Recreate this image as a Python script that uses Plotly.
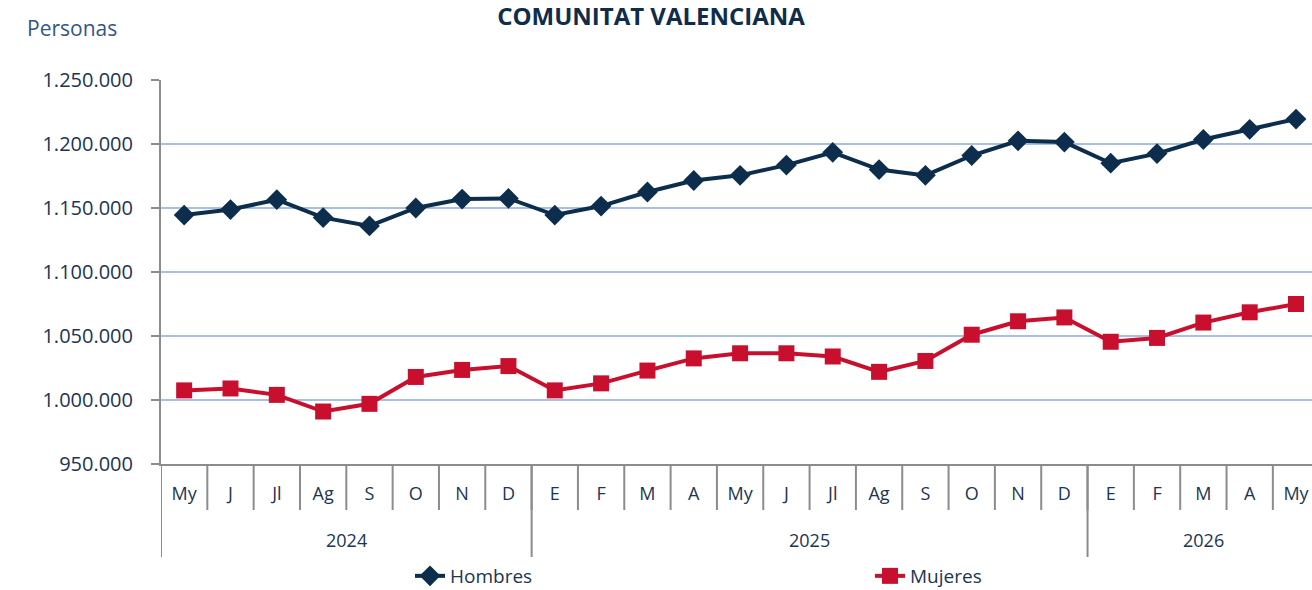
import plotly.graph_objects as go

months = ["My", "J", "Jl", "Ag", "S", "O", "N", "D",
          "E", "F", "M", "A", "My", "J", "Jl", "Ag", "S", "O", "N", "D",
          "E", "F", "M", "A", "My"]
years = ["2024", "2025", "2026"]
year_counts = [8, 12, 5]

hombres = [1144500, 1148800, 1156500, 1142500, 1136000, 1150000, 1157000, 1157500,
           1144500, 1151500, 1162500, 1171500, 1175500, 1183500, 1193500, 1180000,
           1175500, 1191000, 1202500, 1201500, 1185000, 1192500, 1203500, 1211500, 1219500]
mujeres = [1007500, 1009000, 1004000, 991000, 997000, 1018000, 1023500, 1026500,
           1007500, 1013000, 1023000, 1032500, 1036500, 1036500, 1034000, 1022000,
           1030500, 1051000, 1061500, 1064500, 1045500, 1048500, 1060500, 1068500, 1075000]
y_ticks = [950000, 1000000, 1050000, 1100000, 1150000, 1200000, 1250000]
y_tick_text = ["950.000", "1.000.000", "1.050.000", "1.100.000", "1.150.000",
               "1.200.000", "1.250.000"]

NAVY = "#0c2d4b"
RED = "#c8102e"
TXT = "#1b3552"
GRID = "#a8c0df"
AXIS = "#8c8c8c"
FONT = "'Open Sans', Lato, sans-serif"

W, H = 1312, 590
left, top, bottom = 161, 80, 464
ph = bottom - top
pw = W - left

x = list(range(len(months)))

fig = go.Figure()
fig.add_trace(go.Scatter(x=x, y=hombres, name="Hombres", mode="lines+markers",
                         line=dict(color=NAVY, width=4),
                         marker=dict(symbol="diamond", size=16, color=NAVY)))
fig.add_trace(go.Scatter(x=x, y=mujeres, name="Mujeres", mode="lines+markers",
                         line=dict(color=RED, width=4),
                         marker=dict(symbol="square", size=16, color=RED)))

shapes = []
for i in range(len(months) + 1):
    shapes.append(dict(type="line", xref="x", yref="paper", x0=i - 0.5, x1=i - 0.5,
                       y0=0, y1=-(510 - bottom) / ph, line=dict(color=AXIS, width=2)))
edges = [0]
for c in year_counts:
    edges.append(edges[-1] + c)
for e in edges:
    shapes.append(dict(type="line", xref="x", yref="paper", x0=e - 0.5, x1=e - 0.5,
                       y0=0, y1=-(557 - bottom) / ph, line=dict(color=AXIS, width=2)))

annotations = []
for k, yr in enumerate(years):
    center = (edges[k] + edges[k + 1]) / 2 - 0.5
    annotations.append(dict(x=center, y=-(540 - bottom) / ph, xref="x", yref="paper",
                            text=yr, showarrow=False, font=dict(family=FONT, size=18, color=TXT),
                            xanchor="center", yanchor="middle"))
annotations.append(dict(x=(25 - left) / pw, y=1 + (top - 28) / ph, xref="paper", yref="paper",
                        text="Personas", showarrow=False,
                        font=dict(family=FONT, size=21, color="#34558a"),
                        xanchor="left", yanchor="middle"))

fig.update_layout(
    width=W, height=H,
    margin=dict(l=left, r=0, t=top, b=H - bottom, autoexpand=False),
    paper_bgcolor="white", plot_bgcolor="white",
    title=dict(text="<b>COMUNITAT VALENCIANA</b>", x=651 / W, xanchor="center",
               y=1 - 17 / H, yanchor="middle", yref="container",
               font=dict(family=FONT, size=24, color="#0f2d4a")),
    font=dict(family=FONT, color=TXT),
    showlegend=True,
    legend=dict(orientation="h", x=(410 - left) / pw, xanchor="left",
                y=-(576 - bottom) / ph, yanchor="middle",
                font=dict(family=FONT, size=19, color=TXT),
                entrywidth=415, entrywidthmode="pixels", bgcolor="rgba(0,0,0,0)"),
    shapes=shapes,
    annotations=annotations,
    xaxis=dict(range=[-0.5, 24 + 16 / 46.375], tickmode="array", tickvals=x, ticktext=months,
               showgrid=False, showline=True, linecolor=AXIS, linewidth=2, ticks="",
               tickfont=dict(family=FONT, size=18, color=TXT), ticklabelstandoff=12,
               zeroline=False, fixedrange=True, automargin=False),
    yaxis=dict(range=[950000, 1250000], tickmode="array",
               tickvals=y_ticks, ticktext=y_tick_text,
               showgrid=True, gridcolor=GRID, gridwidth=2,
               showline=True, linecolor=AXIS, linewidth=2,
               ticks="outside", ticklen=8, tickcolor=AXIS, tickwidth=2,
               tickfont=dict(family=FONT, size=20, color=TXT), ticklabelstandoff=14,
               zeroline=False, fixedrange=True, automargin=False),
)
fig.write_html("out.html")
